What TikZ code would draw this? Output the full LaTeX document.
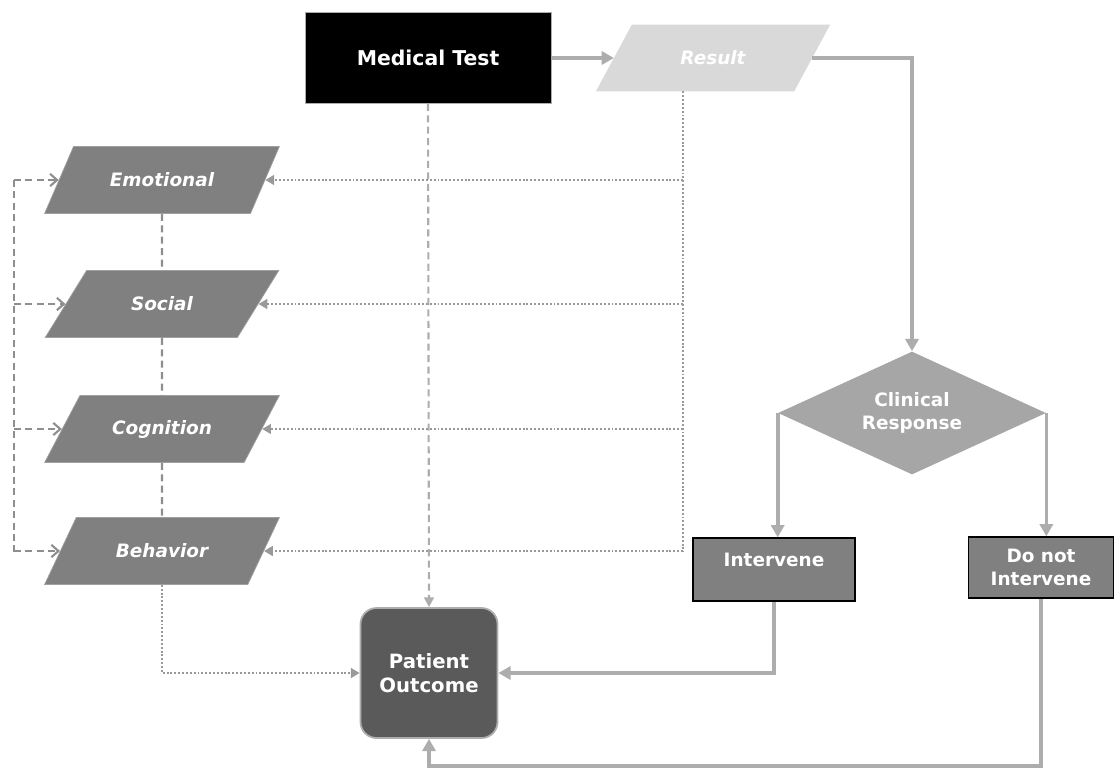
\documentclass[tikz,border=0pt]{standalone}
\usepackage{fontspec}
\setmainfont{DejaVu Sans}
\usetikzlibrary{shapes.geometric,arrows.meta}
\definecolor{linegray}{HTML}{ADADAD}
\definecolor{dashgray}{HTML}{8E8E8E}
\definecolor{dotgray}{HTML}{999999}
\definecolor{paragray}{HTML}{808080}
\definecolor{resgray}{HTML}{D9D9D9}
\definecolor{diagray}{HTML}{A6A6A6}
\definecolor{outgray}{HTML}{5A5A5A}
\tikzset{
  lbl/.style={text=white, align=center, font=\fontsize{10.5}{13}\selectfont\bfseries},
  para/.style={lbl, trapezium, trapezium stretches=true, trapezium left angle=40,
    trapezium right angle=140, minimum width=4.7cm, minimum height=1.34cm, inner sep=0pt,
    fill=paragray, draw=paragray!75!white, font=\fontsize{10.5}{13}\selectfont\bfseries\itshape},
  boxnode/.style={lbl, rectangle, fill=paragray, draw=black, line width=0.8pt, inner sep=0pt},
  solidarrow/.style={draw=linegray, line width=2.1pt, -{Triangle[length=7pt,width=7.5pt]}},
  dashline/.style={draw=dashgray, line width=1.2pt, dash pattern=on 4pt off 2.5pt},
  dasharrow/.style={dashline, -{Straight Barb[length=4pt,width=7pt]}},
  dotline/.style={draw=dotgray, line width=1.4pt, dash pattern=on 1.1pt off 1.1pt},
  dotarrow/.style={dotline, -{Triangle[length=5pt,width=5.5pt]}}
}
\begin{document}
\begin{tikzpicture}[x=0.02cm, y=-0.02cm]
  \useasboundingbox (0,0) rectangle (1114,771);
  % top row
  \node[lbl, rectangle, fill=black, draw=linegray, minimum width=4.92cm, minimum height=1.82cm,
    font=\fontsize{11.6}{14}\selectfont\bfseries] (test) at (428,58) {Medical Test};
  \node[para, trapezium left angle=45, trapezium right angle=135, minimum width=4.68cm, minimum height=1.32cm,
    fill=resgray, draw=resgray] (result) at (713,58) {Result};
  % decision
  \node[lbl, diamond, fill=diagray, minimum width=5.36cm, minimum height=2.46cm, aspect=2.2, inner sep=0pt] (clin) at (912,413) {Clinical\\Response};
  \node[boxnode, minimum width=3.24cm, minimum height=1.26cm, text height=0.56cm, text depth=0.7cm] (int) at (774,569.5) {Intervene};
  \node[boxnode, minimum width=2.9cm, minimum height=1.22cm] (noint) at (1041,567.5) {Do not\\Intervene};
  \node[lbl, rectangle, rounded corners=0.32cm, fill=outgray, draw=linegray, line width=1pt,
    minimum width=2.74cm, minimum height=2.6cm, font=\fontsize{11.2}{14}\selectfont\bfseries] (pat) at (429,673) {Patient\\Outcome};
  % outcomes of the test
  \node[para] (emo) at (162,180) {Emotional};
  \node[para] (soc) at (162,304) {Social};
  \node[para] (cog) at (162,429) {Cognition};
  \node[para] (beh) at (162,551) {Behavior};
  \coordinate (rbus) at (683,552);
  \coordinate (lbus) at (14,552);
  \coordinate (low) at (0,766);

  \draw[solidarrow] (test.east) -- (result.west);
  \draw[solidarrow] (result.east) -| (clin.north);
  \draw[solidarrow] (clin.west) -- (clin.west |- int.north);
  \draw[solidarrow] (clin.east) -- (clin.east |- noint.north);
  \draw[solidarrow] (int.south) |- (pat.east);
  \draw[solidarrow] (noint.south) -- (noint.south |- low) -| (pat.south);
  \draw[dashline, draw=linegray, -{Triangle[length=5.5pt,width=5.5pt]}] (test.south) -- (pat.north);

  \draw[dotline] (result.south -| rbus) -- (rbus);
  \draw[dashline] (lbus |- emo.west) -- (lbus);
  \foreach \p in {emo,soc,cog,beh}{
    \draw[dotarrow] (rbus |- \p.east) -- (\p.east);
    \draw[dasharrow] (lbus |- \p.west) -- (\p.west);
  }
  \draw[dashline] (emo.south) -- (soc.north);
  \draw[dashline] (soc.south) -- (cog.north);
  \draw[dashline] (cog.south) -- (beh.north);
  \draw[dotarrow] (beh.south) |- (pat.west);
\end{tikzpicture}
\end{document}
